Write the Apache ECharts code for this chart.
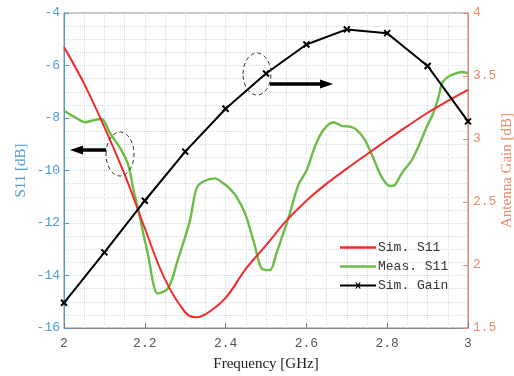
<!DOCTYPE html>
<html>
<head>
<meta charset="utf-8">
<script src="https://cdn.jsdelivr.net/npm/echarts@6/dist/echarts.min.js"></script>
<style>
html,body{margin:0;padding:0;background:#fff;}
#c{width:514px;height:376px;}
</style>
</head>
<body>
<div id="c"></div>
<script>
// Simulated S11 (GHz, dB)
const simFreq = [2.0, 2.05, 2.1, 2.15, 2.2, 2.25, 2.3, 2.325, 2.35, 2.4, 2.45, 2.5, 2.55, 2.6, 2.65, 2.7, 2.75, 2.8, 2.85, 2.9, 2.95, 3.0];
const simS11  = [-5.30, -6.70, -8.35, -10.15, -12.2, -14.15, -15.4, -15.59, -15.48, -14.85, -13.75, -12.85, -11.92, -11.15, -10.5, -9.93, -9.38, -8.84, -8.31, -7.8, -7.35, -6.93];
// Measured S11 (GHz, dB)
const measFreq = [2.0, 2.025, 2.052, 2.075, 2.093, 2.114, 2.139, 2.159, 2.172, 2.184, 2.196, 2.209, 2.221, 2.231, 2.254, 2.267, 2.279, 2.295, 2.312, 2.328, 2.345, 2.374, 2.394, 2.407, 2.427, 2.448, 2.46, 2.473, 2.489, 2.51, 2.526, 2.543, 2.559, 2.58, 2.601, 2.621, 2.642, 2.667, 2.687, 2.708, 2.725, 2.745, 2.766, 2.786, 2.807, 2.819, 2.836, 2.861, 2.881, 2.898, 2.914, 2.927, 2.935, 2.945, 2.96, 2.985, 3.0];
const measS11  = [-7.72, -7.95, -8.16, -8.08, -8.04, -8.58, -9.15, -9.79, -10.74, -11.5, -12.39, -13.28, -14.3, -14.68, -14.55, -14.17, -13.54, -12.77, -11.89, -10.68, -10.42, -10.3, -10.49, -10.64, -11.0, -11.63, -12.2, -12.9, -13.73, -13.79, -13.15, -12.39, -11.63, -10.55, -9.98, -9.09, -8.46, -8.16, -8.30, -8.33, -8.46, -8.84, -9.54, -10.24, -10.59, -10.55, -10.11, -9.6, -8.96, -8.33, -7.82, -7.2, -6.7, -6.5, -6.36, -6.25, -6.3];
// Simulated antenna gain (GHz, dB)
const gainFreq = [2.0, 2.1, 2.2, 2.3, 2.4, 2.5, 2.6, 2.7, 2.8, 2.9, 3.0];
const gainVals = [1.70, 2.10, 2.51, 2.90, 3.24, 3.52, 3.75, 3.87, 3.84, 3.58, 3.14];

const xTicks = [2, 2.2, 2.4, 2.6, 2.8, 3];
const leftTicks = [-16, -14, -12, -10, -8, -6, -4];
const rightTicks = [1.5, 2, 2.5, 3, 3.5, 4];

const zip = (a, b) => a.map((v, i) => [v, b[i]]);

const blue = '#4a9ad6';
const orange = '#ea8a68';
const mono = 'Liberation Mono';
const serif = 'Liberation Serif';
const gridCol = '#cfdde9';

const lineIcon = 'path://M0,3.8L36,3.8L36,6.2L0,6.2Z';
const gainIcon = 'path://M0,4L36,4L36,6L0,6Z M15.2,2L16.6,2L20.8,8L19.4,8Z M19.4,2L20.8,2L16.6,8L15.2,8Z';

const chart = echarts.init(document.getElementById('c'), null, {renderer: 'canvas'});
chart.setOption({
  animation: false,
  backgroundColor: '#fff',
  grid: {left: 64, right: 46, top: 13, bottom: 48, containLabel: false, outerBoundsMode: 'none',
         show: true, borderColor: '#8a8a8a', borderWidth: 1},
  legend: {
    orient: 'vertical', left: 335, top: 236, itemWidth: 36, itemHeight: 10, itemGap: 6,
    itemStyle: {borderWidth: 0},
    textStyle: {fontFamily: mono, fontSize: 13, color: '#333', padding: [0, 0, 0, -3]},
    data: [{name: 'Sim. S11', icon: lineIcon}, {name: 'Meas. S11', icon: lineIcon}, {name: 'Sim. Gain', icon: gainIcon}]
  },
  xAxis: {
    type: 'value', min: 2, max: 3, interval: 0.2,
    name: 'Frequency [GHz]', nameLocation: 'middle', nameGap: 29,
    nameTextStyle: {fontFamily: serif, fontSize: 15, color: '#222'},
    axisLine: {show: true, lineStyle: {color: '#8a8a8a'}},
    axisTick: {show: true, inside: true, length: 5, lineStyle: {color: '#777'}},
    axisLabel: {fontFamily: mono, fontSize: 13, color: '#555', margin: 9,
      formatter: v => { const t = xTicks.find(k => Math.abs(k - v) < 1e-6); return t === undefined ? '' : String(t); }},
    splitLine: {show: true, lineStyle: {color: gridCol, type: 'dotted'}},
    minorTick: {show: false, splitNumber: 4},
    minorSplitLine: {show: true, lineStyle: {color: gridCol, type: 'dotted'}}
  },
  yAxis: [{
    type: 'value', min: -16, max: -4, interval: 2, position: 'left',
    name: 'S11 [dB]', nameLocation: 'middle', nameGap: 35, nameRotate: 90, nameMoveOverlap: false,
    nameTextStyle: {fontFamily: serif, fontSize: 15, color: blue},
    axisLine: {show: true, lineStyle: {color: blue}},
    axisTick: {show: true, inside: true, length: 5, lineStyle: {color: blue}},
    axisLabel: {fontFamily: mono, fontSize: 13, color: blue, margin: 4,
      formatter: v => { const t = leftTicks.find(k => Math.abs(k - v) < 1e-6); return t === undefined ? '' : String(t); }},
    splitLine: {show: true, lineStyle: {color: gridCol, type: 'dotted'}},
    minorTick: {show: false, splitNumber: 4},
    minorSplitLine: {show: true, lineStyle: {color: gridCol, type: 'dotted'}}
  }, {
    type: 'value', min: 1.5, max: 4, interval: 0.5, position: 'right',
    name: 'Antenna Gain [dB]', nameLocation: 'middle', nameGap: 32, nameRotate: 90, nameMoveOverlap: false,
    nameTextStyle: {fontFamily: serif, fontSize: 15, color: orange},
    axisLine: {show: true, lineStyle: {color: orange}},
    axisTick: {show: true, inside: true, length: 5, lineStyle: {color: orange}},
    axisLabel: {fontFamily: mono, fontSize: 13, color: orange, margin: 5,
      formatter: v => { const t = rightTicks.find(k => Math.abs(k - v) < 1e-6); return t === undefined ? '' : String(t); }},
    splitLine: {show: false}
  }],
  series: [{
    name: 'Sim. S11', type: 'line', yAxisIndex: 0, data: zip(simFreq, simS11),
    smooth: 0.4, showSymbol: false, symbol: 'none', color: '#f42a2a',
    itemStyle: {color: '#f42a2a'}, lineStyle: {width: 2, color: '#f42a2a'}, z: 3
  }, {
    name: 'Meas. S11', type: 'line', yAxisIndex: 0, data: zip(measFreq, measS11),
    smooth: 0.3, showSymbol: false, symbol: 'none', color: '#6cbd45',
    itemStyle: {color: '#6cbd45'}, lineStyle: {width: 2.4, color: '#6cbd45'}, z: 2
  }, {
    name: 'Sim. Gain', type: 'line', yAxisIndex: 1, data: zip(gainFreq, gainVals),
    smooth: false, symbol: 'path://M0,0L10,10M10,0L0,10', symbolSize: 6,
    color: '#000', itemStyle: {color: '#000', borderColor: '#000', borderWidth: 2},
    lineStyle: {width: 2, color: '#000'}, z: 4
  }],
  graphic: [
    {type: 'ellipse', shape: {cx: 120, cy: 154, rx: 14, ry: 22}, z: 10,
     style: {fill: 'none', stroke: '#333', lineWidth: 1, lineDash: [4, 3]}},
    {type: 'line', shape: {x1: 106, y1: 150, x2: 80, y2: 150}, z: 10,
     style: {stroke: '#000', lineWidth: 3.5}},
    {type: 'polygon', shape: {points: [[70, 150], [83, 145.5], [83, 154.5]]}, z: 10,
     style: {fill: '#000'}},
    {type: 'ellipse', shape: {cx: 257, cy: 74, rx: 14, ry: 21}, z: 10,
     style: {fill: 'none', stroke: '#333', lineWidth: 1, lineDash: [4, 3]}},
    {type: 'line', shape: {x1: 270, y1: 84, x2: 322, y2: 84}, z: 10,
     style: {stroke: '#000', lineWidth: 3.5}},
    {type: 'polygon', shape: {points: [[333, 84], [320, 79.5], [320, 88.5]]}, z: 10,
     style: {fill: '#000'}}
  ]
});
</script>
</body>
</html>
